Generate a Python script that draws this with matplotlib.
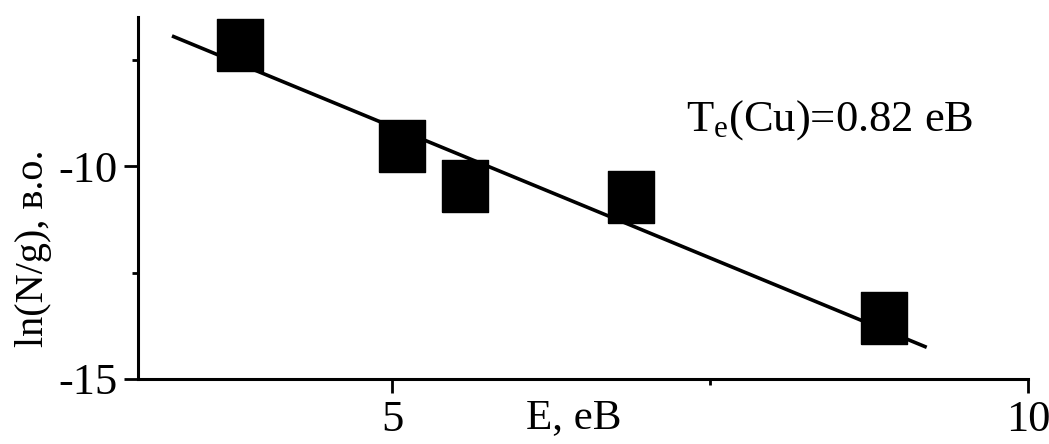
import matplotlib
matplotlib.use("Agg")
import matplotlib.pyplot as plt
from matplotlib.ticker import MultipleLocator

plt.rcParams['font.family'] = ['Liberation Serif', 'DejaVu Serif']
plt.rcParams['mathtext.fontset'] = 'custom'
plt.rcParams['mathtext.rm'] = 'Liberation Serif'
plt.rcParams['mathtext.it'] = 'Liberation Serif:italic'
plt.rcParams['axes.unicode_minus'] = False

# точки
energy = [3.80, 5.08, 5.57, 6.88, 8.87]
ln_ng = [-7.15, -9.53, -10.46, -10.72, -13.57]

# пряма апроксимації
fit_x = [3.28, 9.19]
fit_y = [-6.96, -14.24]

fig = plt.figure(figsize=(10.49, 4.44), dpi=100)
ax = fig.add_axes([0.1316, 0.1464, 0.98 - 0.1316, 0.9617 - 0.1464])

ax.plot(fit_x, fit_y, color='black', linewidth=2.6, zorder=2)
rect = [(-0.45, -0.5), (0.45, -0.5), (0.45, 0.5), (-0.45, 0.5), (-0.45, -0.5)]
ax.plot(energy, ln_ng, linestyle='none', marker=rect, markersize=37,
        color='black', zorder=3)

ax.set_xlim(3, 10)
ax.set_ylim(-15, -6.5)
ax.xaxis.set_major_locator(MultipleLocator(5))
ax.xaxis.set_minor_locator(MultipleLocator(2.5))
ax.yaxis.set_major_locator(MultipleLocator(5))
ax.yaxis.set_minor_locator(MultipleLocator(2.5))

for s in ['top', 'right']:
    ax.spines[s].set_visible(False)
for s in ['left', 'bottom']:
    ax.spines[s].set_linewidth(2.2)

ax.tick_params(which='major', direction='out', length=10, width=2.0,
               labelsize=32, pad=5)
ax.tick_params(which='minor', direction='out', length=4, width=2.0)

ax.set_xlabel('E, еВ', fontsize=31)
ax.xaxis.set_label_coords(0.49, -0.055)
ax.xaxis.label.set_va('top')
ax.set_ylabel('ln(N/g), в.о.', fontsize=29)
ax.yaxis.set_label_coords(-0.097, 0.36)

ax.text(7.31, -9.16, r'T$_\mathrm{e}$(Cu)=0.82 eB', fontsize=32,
        va='baseline', ha='left')

fig.savefig('out.png', dpi=100)
